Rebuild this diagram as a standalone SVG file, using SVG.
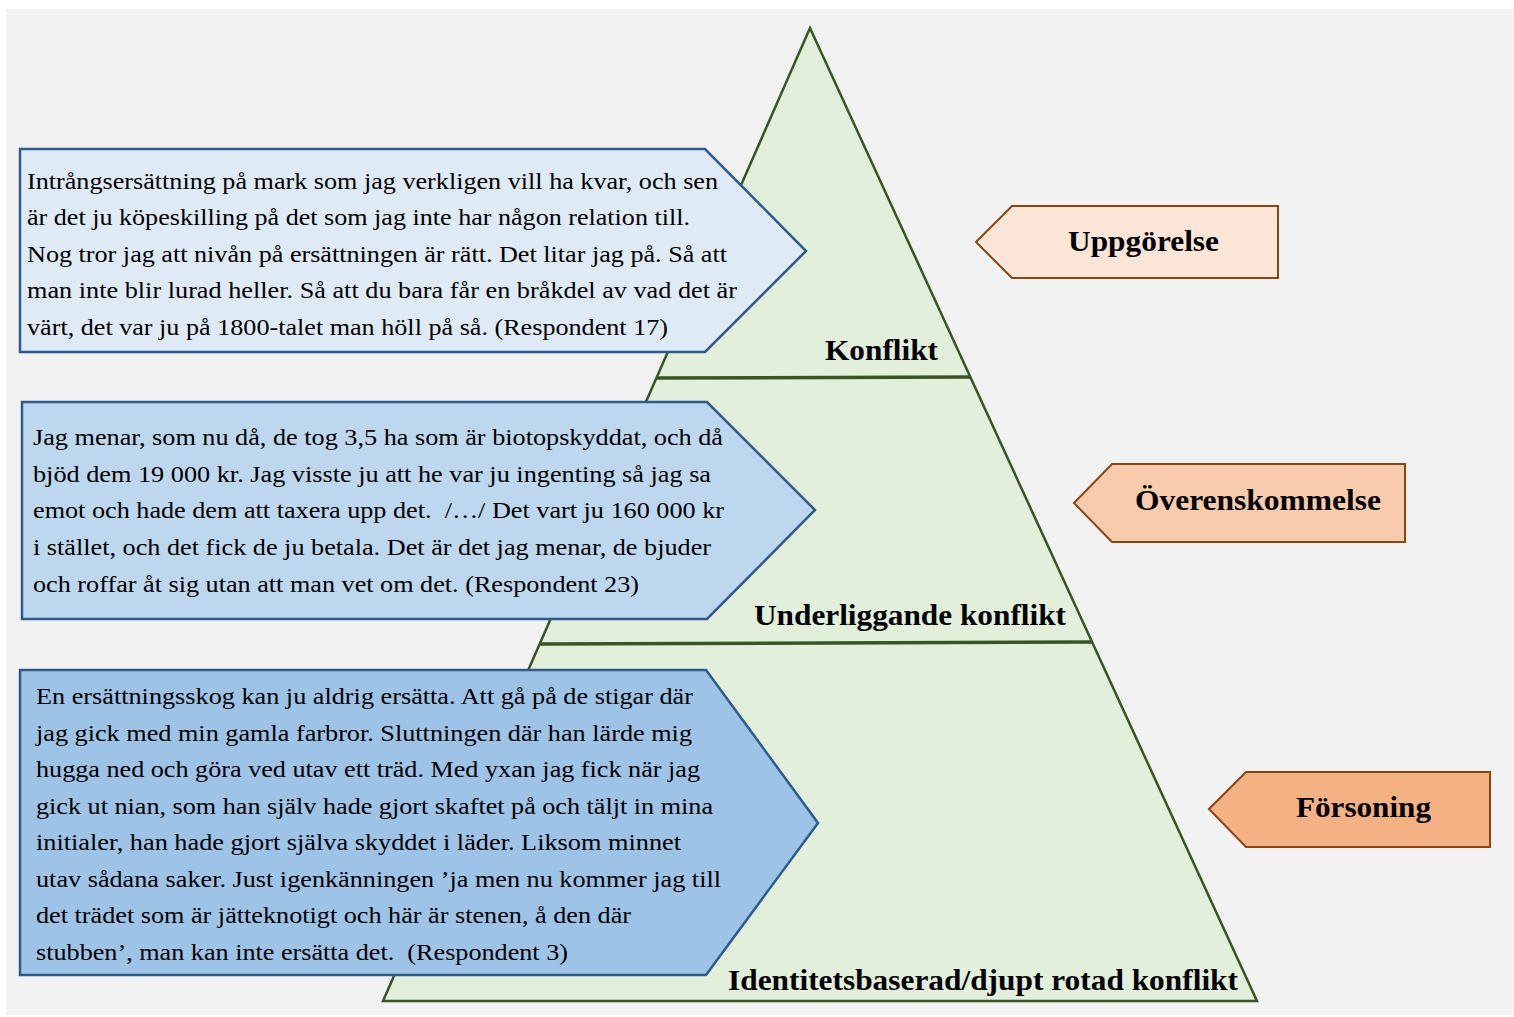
<svg xmlns="http://www.w3.org/2000/svg" width="1514" height="1017" viewBox="0 0 1514 1017">
<style>
.q{font-family:"Liberation Serif","Times New Roman",serif;font-size:24px;fill:#000}
.lb{font-family:"Liberation Serif","Times New Roman",serif;font-size:30px;font-weight:bold;fill:#000}
.tag{font-family:"Liberation Serif","Times New Roman",serif;font-size:30px;font-weight:bold;fill:#000}
.callout{stroke:#2e5b8c;stroke-width:2.5}
.arr{stroke:#8a4513;stroke-width:2}
.div{stroke:#375623;stroke-width:3.5}
</style>
<rect x="0" y="0" width="1514" height="1017" fill="#ffffff"/>
<rect x="6" y="9" width="1508" height="1006" fill="#f2f2f2"/>
<g id="pyramid">
<polygon points="810,28 383,1001 1257,1001" fill="#e2efda" stroke="#375623" stroke-width="2.5" stroke-linejoin="miter"/>
<line class="div" x1="657" y1="378" x2="970" y2="377"/>
<line class="div" x1="540" y1="644" x2="1092" y2="642"/>
<text class="lb" x="825" y="360" textLength="113" lengthAdjust="spacingAndGlyphs">Konflikt</text>
<text class="lb" x="754" y="625" textLength="312" lengthAdjust="spacingAndGlyphs">Underliggande konflikt</text>
<text class="lb" x="728" y="990" textLength="510" lengthAdjust="spacingAndGlyphs">Identitetsbaserad/djupt rotad konflikt</text>
</g>
<g id="callout-1">
<polygon class="callout" points="20,149 705,149 806,251 705,352 20,352" fill="#deebf7"/>
<text class="q" x="27" y="189" textLength="691" lengthAdjust="spacingAndGlyphs">Intrångsersättning på mark som jag verkligen vill ha kvar, och sen</text>
<text class="q" x="27" y="225" textLength="663" lengthAdjust="spacingAndGlyphs">är det ju köpeskilling på det som jag inte har någon relation till.</text>
<text class="q" x="27" y="262" textLength="700" lengthAdjust="spacingAndGlyphs">Nog tror jag att nivån på ersättningen är rätt. Det litar jag på. Så att</text>
<text class="q" x="27" y="298" textLength="710" lengthAdjust="spacingAndGlyphs">man inte blir lurad heller. Så att du bara får en bråkdel av vad det är</text>
<text class="q" x="27" y="335" textLength="641" lengthAdjust="spacingAndGlyphs">värt, det var ju på 1800-talet man höll på så. (Respondent 17)</text>
</g>
<g id="callout-2">
<polygon class="callout" points="22,402 707,402 815,510 707,619 22,619" fill="#bdd7ee"/>
<text class="q" x="33" y="445" textLength="690" lengthAdjust="spacingAndGlyphs">Jag menar, som nu då, de tog 3,5 ha som är biotopskyddat, och då</text>
<text class="q" x="33" y="482" textLength="678" lengthAdjust="spacingAndGlyphs">bjöd dem 19 000 kr. Jag visste ju att he var ju ingenting så jag sa</text>
<text class="q" x="33" y="518" textLength="691" lengthAdjust="spacingAndGlyphs" xml:space="preserve">emot och hade dem att taxera upp det.  /…/ Det vart ju 160 000 kr</text>
<text class="q" x="33" y="555" textLength="678" lengthAdjust="spacingAndGlyphs">i stället, och det fick de ju betala. Det är det jag menar, de bjuder</text>
<text class="q" x="33" y="592" textLength="606" lengthAdjust="spacingAndGlyphs">och roffar åt sig utan att man vet om det. (Respondent 23)</text>
</g>
<g id="callout-3">
<polygon class="callout" points="20,670 706,670 818,823 706,975 20,975" fill="#9dc3e6"/>
<text class="q" x="36" y="704" textLength="657" lengthAdjust="spacingAndGlyphs">En ersättningsskog kan ju aldrig ersätta. Att gå på de stigar där</text>
<text class="q" x="36" y="741" textLength="656" lengthAdjust="spacingAndGlyphs">jag gick med min gamla farbror. Sluttningen där han lärde mig</text>
<text class="q" x="36" y="777" textLength="664" lengthAdjust="spacingAndGlyphs">hugga ned och göra ved utav ett träd. Med yxan jag fick när jag</text>
<text class="q" x="36" y="814" textLength="677" lengthAdjust="spacingAndGlyphs">gick ut nian, som han själv hade gjort skaftet på och täljt in mina</text>
<text class="q" x="36" y="850" textLength="645" lengthAdjust="spacingAndGlyphs">initialer, han hade gjort själva skyddet i läder. Liksom minnet</text>
<text class="q" x="36" y="887" textLength="685" lengthAdjust="spacingAndGlyphs">utav sådana saker. Just igenkänningen ’ja men nu kommer jag till</text>
<text class="q" x="36" y="923" textLength="595" lengthAdjust="spacingAndGlyphs">det trädet som är jätteknotigt och här är stenen, å den där</text>
<text class="q" x="36" y="960" textLength="532" lengthAdjust="spacingAndGlyphs" xml:space="preserve">stubben’, man kan inte ersätta det.  (Respondent 3)</text>
</g>
<g id="tag-uppgorelse">
<polygon class="arr" points="976,242 1012,206 1278,206 1278,278 1012,278" fill="#fbe5d6"/>
<text class="tag" x="1068" y="251" textLength="151" lengthAdjust="spacingAndGlyphs">Uppgörelse</text>
</g>
<g id="tag-overenskommelse">
<polygon class="arr" points="1074,503 1112,464 1405,464 1405,542 1112,542" fill="#f8cbad"/>
<text class="tag" x="1135" y="510" textLength="246" lengthAdjust="spacingAndGlyphs">Överenskommelse</text>
</g>
<g id="tag-forsoning">
<polygon class="arr" points="1209,809 1246,772 1490,772 1490,847 1246,847" fill="#f4b183"/>
<text class="tag" x="1296" y="817" textLength="135" lengthAdjust="spacingAndGlyphs">Försoning</text>
</g>
<g id="connectors"/>
</svg>
